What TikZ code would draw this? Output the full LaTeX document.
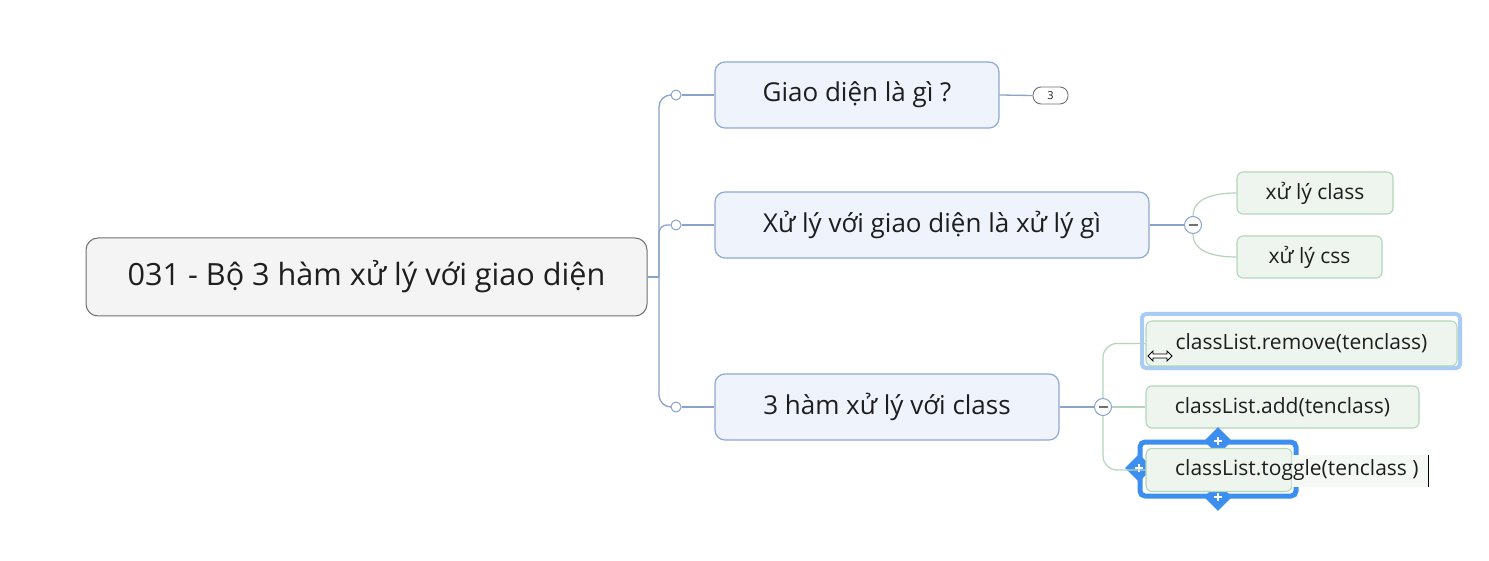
\documentclass[tikz,border=0pt]{standalone}
\usepackage{fontspec}
\setmainfont{Open Sans}
\usetikzlibrary{shapes.geometric}
\definecolor{txt}{HTML}{1E1E1E}
\definecolor{rootfill}{HTML}{F4F4F4}
\definecolor{rootdraw}{HTML}{707070}
\definecolor{bfill}{HTML}{EEF3FC}
\definecolor{bdraw}{HTML}{8FA9D4}
\definecolor{conn}{HTML}{8AA3CB}
\definecolor{gfill}{HTML}{EDF5EE}
\definecolor{gdraw}{HTML}{B3D6BA}
\definecolor{selblue}{HTML}{3D8FEF}
\definecolor{sellight}{HTML}{A9CCF5}
\tikzset{
  rootbox/.style={draw=rootdraw, fill=rootfill, line width=1pt, rounded corners=12pt, text=txt, font=\fontsize{30.6}{36}\selectfont, inner sep=0pt},
  topicbox/.style={draw=bdraw, fill=bfill, line width=1.2pt, rounded corners=10pt, text=txt, font=\fontsize{26}{31}\selectfont, inner sep=0pt, minimum height=66pt},
  subbox/.style={draw=gdraw, fill=gfill, line width=1.1pt, rounded corners=6pt, text=txt, font=\fontsize{21}{25}\selectfont, inner sep=0pt},
  bconn/.style={draw=conn, line width=1.3pt},
  gconn/.style={draw=gdraw, line width=1.2pt},
  knob/.style={circle, draw=conn, fill=white, line width=1pt, minimum size=10pt, inner sep=0pt},
  fold/.style={circle, draw=conn, fill=white, line width=1pt, minimum size=17pt, inner sep=0pt},
  handle/.style={diamond, fill=selblue, minimum size=28pt, inner sep=0pt},
}
\begin{document}
\begin{tikzpicture}[x=1pt,y=-1pt]
\useasboundingbox (0,0) rectangle (1489,561);
\fill[white] (0,0) rectangle (1489,561);

% root and main topics
\node[rootbox, minimum width=561pt, minimum height=78pt] (root) at (366.5,277) {031 - Bộ 3 hàm xử lý với giao diện};
\node[topicbox, minimum width=284pt] (n1) at (857,95) {Giao diện là gì ?};
\node[topicbox, minimum width=434pt] (n2) at (932,225) {Xử lý với giao diện là xử lý gì};
\node[topicbox, minimum width=344pt] (n3) at (887,407) {3 hàm xử lý với class};

\coordinate (tr) at (659,277);
\node[knob] (k1) at (676,95) {};
\node[knob] (k2) at (676,225) {};
\node[knob] (k3) at (676,407) {};

\draw[bconn] (root.east) -- (tr);
\draw[bconn, rounded corners=12pt] (k1.west) -| (tr) |- (k3.west);
\draw[bconn, rounded corners=8pt] (k2.west) -| (tr);
\draw[bconn] (k1.east) -- (n1.west);
\draw[bconn] (k2.east) -- (n2.west);
\draw[bconn] (k3.east) -- (n3.west);

% badge
\node[draw=rootdraw, fill=white, rounded corners=8pt, line width=0.9pt, minimum width=35pt, minimum height=17pt, inner sep=0pt, font=\fontsize{11}{13}\selectfont, text=txt] (badge) at (1050.5,95.5) {3};
\draw[bconn] (n1.east) -- (badge.west);

% subtopics of n2
\node[fold] (m2) at (1193,225) {};
\draw[rootdraw, line width=1.2pt] ([xshift=-4.5pt]m2.center) -- ([xshift=4.5pt]m2.center);
\draw[bconn] (n2.east) -- (m2.west);
\node[subbox, minimum width=156pt, minimum height=42pt] (c21) at (1315,193) {xử lý class};
\node[subbox, minimum width=145pt, minimum height=42pt] (c22) at (1309.5,257) {xử lý css};
\draw[gconn] (m2.north) to[out=90, in=180] (c21.west);
\draw[gconn] (m2.south) to[out=-90, in=180] (c22.west);

% subtopics of n3
\node[fold] (m3) at (1103,407) {};
\draw[rootdraw, line width=1.2pt] ([xshift=-4.5pt]m3.center) -- ([xshift=4.5pt]m3.center);
\draw[bconn] (n3.east) -- (m3.west);

% selected frame for c31
\draw[sellight, line width=4pt, rounded corners=4pt] (1142,314) rectangle (1460,368);
\node[subbox, minimum width=311pt, minimum height=45pt] (c31) at (1301.5,343.5) {classList.remove(tenclass)};
\node[subbox, minimum width=273pt, minimum height=42pt] (c32) at (1282.5,407) {classList.add(tenclass)};

% c33 being edited
\node[handle] (h1) at (1218,441) {};
\node[handle] (h2) at (1218,497) {};
\node[handle] (h3) at (1139,468) {};
\draw[selblue, line width=5pt, rounded corners=5pt] (1140,442) rectangle (1296,496);
\node[subbox, minimum width=146pt, minimum height=43pt] (c33) at (1219,470) {};
\fill[gfill!60!white] (1292,455) rectangle (1428,487);
\node[anchor=west, text=txt, font=\fontsize{21}{25}\selectfont, inner sep=0pt] (t33) at (1175,470) {classList.toggle(tenclass )};
\draw[black, line width=1pt] (1428,455) -- (1428,487);
\foreach \h in {h1,h2,h3} {
  \draw[white, line width=2.2pt] ([xshift=-4pt]\h.center) -- ([xshift=4pt]\h.center);
  \draw[white, line width=2.2pt] ([yshift=-4pt]\h.center) -- ([yshift=4pt]\h.center);
}
\draw[gconn, rounded corners=14pt] (c31.west) -| (m3.north);
\draw[gconn, rounded corners=14pt] (m3.south) |- (c33.west);
\draw[gconn] (m3.east) -- (c32.west);

% resize cursor
\filldraw[fill=white, draw=black, line width=0.8pt, line join=miter]
  (1148,356) -- (1153,351) -- (1153,354) -- (1167,354) -- (1167,351) -- (1172,356)
  -- (1167,361) -- (1167,358) -- (1153,358) -- (1153,361) -- cycle;
\end{tikzpicture}
\end{document}
